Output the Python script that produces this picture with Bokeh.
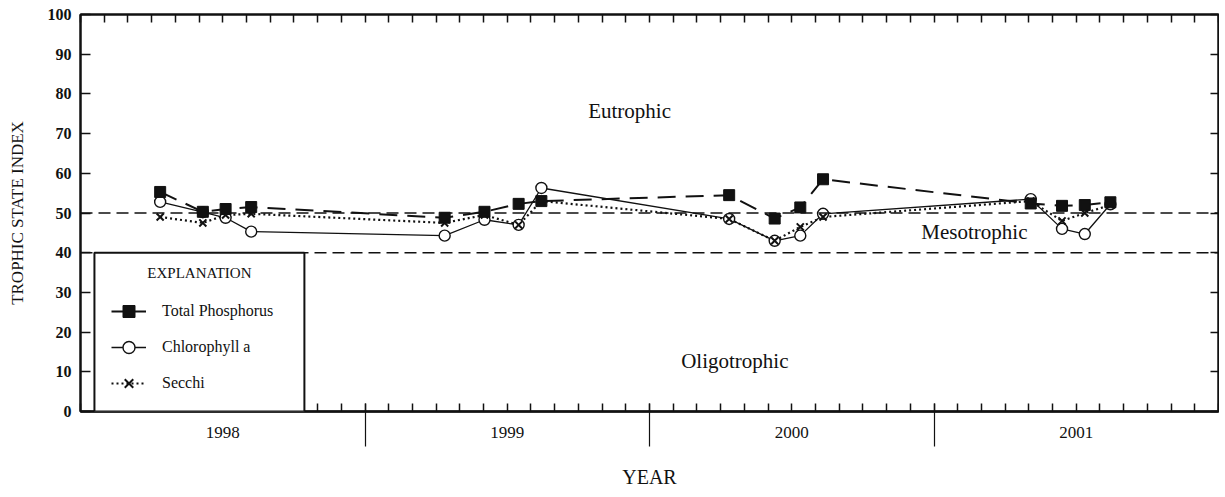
from bokeh.plotting import figure
from bokeh.models import (Range1d, LinearAxis, FixedTicker, Span, Label, Legend,
                          LegendItem, BoxAnnotation)
from bokeh.embed import file_html
from bokeh.resources import INLINE

# ---------------- data (decimal years, trophic state index) ----------------
dates = [1998.28, 1998.43, 1998.51, 1998.60,
         1999.28, 1999.42, 1999.54, 1999.62,
         2000.28, 2000.44, 2000.53, 2000.61,
         2001.34, 2001.45, 2001.53, 2001.62]
total_phosphorus = [55.3, 50.3, 51.0, 51.5,
                    48.8, 50.3, 52.3, 53.0,
                    54.5, 48.6, 51.4, 58.5,
                    52.4, 51.8, 52.0, 52.7]
chlorophyll_a = [52.8, 50.2, 48.8, 45.3,
                 44.3, 48.3, 47.0, 56.3,
                 48.5, 43.0, 44.3, 49.8,
                 53.5, 46.0, 44.7, 52.2]
secchi = [49.0, 47.5, 49.5, 49.8,
          47.5, 49.5, 47.0, 53.0,
          48.5, 43.0, 46.5, 49.0,
          53.0, 48.0, 50.0, 52.0]

year_labels = ["1998", "1999", "2000", "2001"]
year_first = 1998
n_years = 4
y_ticks = [0, 10, 20, 30, 40, 50, 60, 70, 80, 90, 100]
class_bounds = [40, 50]   # oligotrophic / mesotrophic / eutrophic boundaries

FONT = "Liberation Serif"
BLACK = "#111111"

# tick positions
year_bounds = [year_first + i for i in range(1, n_years)]
year_mids = [year_first + i + 0.5 for i in range(n_years)]
month_ticks = [year_first + m / 12 for m in range(0, 12 * n_years + 1)]

p = figure(frame_width=1138, frame_height=397,
           x_range=Range1d(year_first, year_first + n_years), y_range=Range1d(0, 100),
           x_axis_type=None, y_axis_type=None,
           output_backend="svg", toolbar_location=None,
           min_border_left=80, min_border_right=1, min_border_top=14, min_border_bottom=40,
           background_fill_color="white", border_fill_color="white")
p.outline_line_color = BLACK
p.outline_line_width = 2
p.grid.visible = False

# ---- axes ----
# inner bottom axis: monthly ticks pointing into the plot
months_axis = LinearAxis(ticker=FixedTicker(ticks=[], minor_ticks=month_ticks),
                         minor_tick_in=8, minor_tick_out=0,
                         axis_line_width=2, axis_line_color=BLACK,
                         minor_tick_line_color=BLACK, minor_tick_line_width=1.5)
p.add_layout(months_axis, "below")

# outer bottom axis: year labels centred on each year + long year separators
years_axis = LinearAxis(ticker=FixedTicker(ticks=year_mids, minor_ticks=year_bounds),
                        major_tick_in=0, major_tick_out=0, major_tick_line_alpha=0,
                        minor_tick_in=8, minor_tick_out=35,
                        minor_tick_line_color=BLACK, minor_tick_line_width=1.2,
                        major_label_overrides={m: lab for m, lab in zip(year_mids, year_labels)},
                        major_label_text_font=FONT, major_label_text_font_size="17px",
                        major_label_text_color=BLACK, major_label_standoff=-20,
                        axis_label="YEAR", axis_label_text_font=FONT,
                        axis_label_text_font_size="20px", axis_label_text_font_style="normal",
                        axis_label_standoff=25, axis_label_text_color=BLACK,
                        axis_line_width=2, axis_line_color=BLACK)
p.add_layout(years_axis, "below")

top = LinearAxis(ticker=FixedTicker(ticks=[], minor_ticks=month_ticks),
                 minor_tick_in=8, minor_tick_out=0,
                 axis_line_width=2, axis_line_color=BLACK,
                 minor_tick_line_color=BLACK, minor_tick_line_width=1.5)
p.add_layout(top, "above")

left = LinearAxis(ticker=FixedTicker(ticks=y_ticks, minor_ticks=[]),
                  major_tick_in=10, major_tick_out=0, major_label_standoff=9,
                  major_label_text_font=FONT, major_label_text_font_size="16px",
                  major_label_text_font_style="bold", major_label_text_color=BLACK,
                  axis_label="TROPHIC STATE INDEX", axis_label_text_font=FONT,
                  axis_label_text_font_size="17px", axis_label_text_font_style="normal",
                  axis_label_standoff=18, axis_label_text_color=BLACK,
                  axis_line_width=2, axis_line_color=BLACK,
                  major_tick_line_color=BLACK, major_tick_line_width=1.5)
p.add_layout(left, "left")

right = LinearAxis(ticker=FixedTicker(ticks=[], minor_ticks=y_ticks),
                   minor_tick_in=8, minor_tick_out=0,
                   axis_line_width=2, axis_line_color=BLACK,
                   minor_tick_line_color=BLACK, minor_tick_line_width=1.5)
p.add_layout(right, "right")

# ---- trophic class boundaries ----
for b in class_bounds:
    p.add_layout(Span(location=b, dimension="width", line_color=BLACK,
                      line_width=1.5, line_dash="12 6"))

# ---- data series ----
p.line(dates, total_phosphorus, line_color=BLACK, line_width=2, line_dash="18 10")
p.line(dates, secchi, line_color=BLACK, line_width=2.2, line_dash="2 3")
p.line(dates, chlorophyll_a, line_color=BLACK, line_width=1.3)
p.scatter(dates, chlorophyll_a, marker="circle", size=11, fill_color="white",
          line_color=BLACK, line_width=1.4)
p.scatter(dates, total_phosphorus, marker="square", size=11, fill_color=BLACK,
          line_color=BLACK)
p.scatter(dates, secchi, marker="x", size=10, line_color=BLACK, line_width=2)

# ---- region labels ----
for txt, xx, yy in [("Eutrophic", 1999.93, 75.6),
                    ("Mesotrophic", 2001.142, 45.3),
                    ("Oligotrophic", 2000.30, 12.6)]:
    p.add_layout(Label(x=xx, y=yy, text=txt, text_font=FONT, text_font_size="21px",
                       text_align="center", text_baseline="middle", text_color=BLACK))

# ---- explanation box ----
p.add_layout(BoxAnnotation(left=1998.049, right=1998.787, bottom=0, top=40,
                           fill_color="white", fill_alpha=1.0,
                           line_color=BLACK, line_alpha=1.0, line_width=2))
p.add_layout(Label(x=1998.418, y=35.0, text="EXPLANATION", text_font=FONT,
                   text_font_size="15px", text_align="center",
                   text_baseline="middle", text_color=BLACK))

nan = float("nan")
lg_tp_l = p.line([nan], [nan], line_color=BLACK, line_width=2)
lg_tp_m = p.scatter([nan], [nan], marker="square", fill_color=BLACK, line_color=BLACK)
lg_ch_l = p.line([nan], [nan], line_color=BLACK, line_width=1.5)
lg_ch_m = p.scatter([nan], [nan], marker="circle", fill_color="white", line_color=BLACK,
                    line_width=1.4)
lg_se_l = p.line([nan], [nan], line_color=BLACK, line_width=2.2, line_dash="2 3")
lg_se_m = p.scatter([nan], [nan], marker="x", line_color=BLACK, line_width=2)

legend = Legend(items=[LegendItem(label="Total Phosphorus", renderers=[lg_tp_l, lg_tp_m]),
                       LegendItem(label="Chlorophyll a", renderers=[lg_ch_l, lg_ch_m]),
                       LegendItem(label="Secchi", renderers=[lg_se_l, lg_se_m])],
                location=(31, 13), padding=0, margin=0, spacing=6,
                glyph_width=35, glyph_height=30, label_height=30, label_standoff=16,
                label_text_font=FONT, label_text_font_size="16px",
                label_text_color=BLACK, label_text_baseline="middle",
                border_line_alpha=0, background_fill_alpha=0)
p.add_layout(legend)

open("out.html", "w").write(file_html(p, INLINE))
